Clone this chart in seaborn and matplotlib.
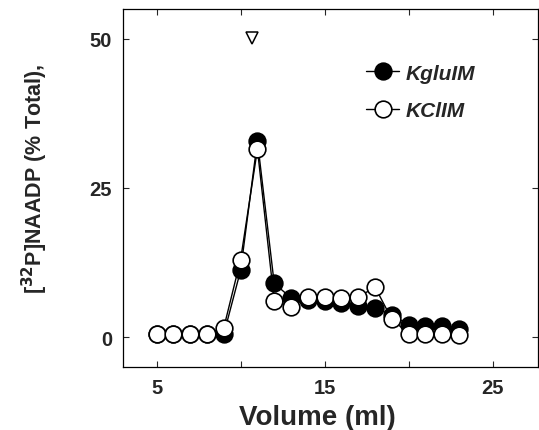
import matplotlib
matplotlib.use("Agg")
import matplotlib.pyplot as plt
import seaborn as sns
import pandas as pd

volume = [5, 6, 7, 8, 9, 10, 11, 12, 13, 14, 15, 16, 17, 18, 19, 20, 21, 22, 23]
kglu = [0.5, 0.5, 0.5, 0.5, 0.5, 11.2, 32.9, 9.0, 6.6, 6.2, 6.0, 5.8, 5.2, 4.9, 3.7, 2.1, 1.9, 1.8, 1.4]
kcl = [0.5, 0.5, 0.5, 0.5, 1.6, 13.0, 31.5, 6.1, 5.1, 6.7, 6.7, 6.5, 6.7, 8.4, 3.0, 0.6, 0.5, 0.5, 0.4]
series_names = ["KgluIM", "KClIM"]
marker_x = [10.7]
marker_y = [50.2]
xticks = [5, 10, 15, 20, 25]
xticklabels = ["5", "", "15", "", "25"]
yticks = [0, 25, 50]
yticklabels = ["0", "25", "50"]

sns.set_theme(style="ticks")
plt.rcParams['font.family'] = ['Liberation Sans', 'DejaVu Sans']

fig = plt.figure(figsize=(5.39, 4.31), dpi=100)
ax = fig.add_axes([123/539, 1-368/431, (538-123)/539, (368-10)/431])

df1 = pd.DataFrame({"Volume": volume, "val": kglu})
df2 = pd.DataFrame({"Volume": volume, "val": kcl})

sns.lineplot(data=df1, x="Volume", y="val", ax=ax, color="black", lw=1.0,
             marker="o", markersize=12, markerfacecolor="black",
             markeredgecolor="black", markeredgewidth=1.2, label=series_names[0])
sns.lineplot(data=df2, x="Volume", y="val", ax=ax, color="black", lw=1.0,
             marker="o", markersize=12, markerfacecolor="white",
             markeredgecolor="black", markeredgewidth=1.2, label=series_names[1])
ax.plot(marker_x, marker_y, marker="v", markersize=9, markerfacecolor="white",
        markeredgecolor="black", markeredgewidth=1.1, linestyle="none")

ax.set_xlim(3, 27.7)
ax.set_ylim(-5, 55)
ax.set_xticks(xticks)
ax.set_xticklabels(xticklabels)
ax.set_yticks(yticks)
ax.set_yticklabels(yticklabels)
ax.tick_params(direction="in", length=4, width=0.8, top=True, right=True,
               labelsize=14.5, pad=8)
for lab in ax.get_xticklabels() + ax.get_yticklabels():
    lab.set_fontweight("bold")
for s in ax.spines.values():
    s.set_linewidth(0.9)
    s.set_color("black")

ax.set_xlabel("Volume (ml)", fontsize=20, fontweight="bold")
ax.xaxis.set_label_coords((317-123)/415, -(405-368)/358)
ax.xaxis.label.set_va("top")
ax.set_ylabel("")
fig.text(35/539, 1-179/431, "[$\\mathbf{^{32}}$P]NAADP (% Total),", rotation=90,
         ha="center", va="center", fontsize=15.5, fontweight="bold")

leg = ax.legend(loc="upper left", bbox_to_anchor=(0.54, 0.9), frameon=False,
                prop={"weight": "bold", "style": "italic", "size": 15},
                handlelength=1.6, handletextpad=0.3, labelspacing=0.9)

fig.savefig("out.png", dpi=100)
